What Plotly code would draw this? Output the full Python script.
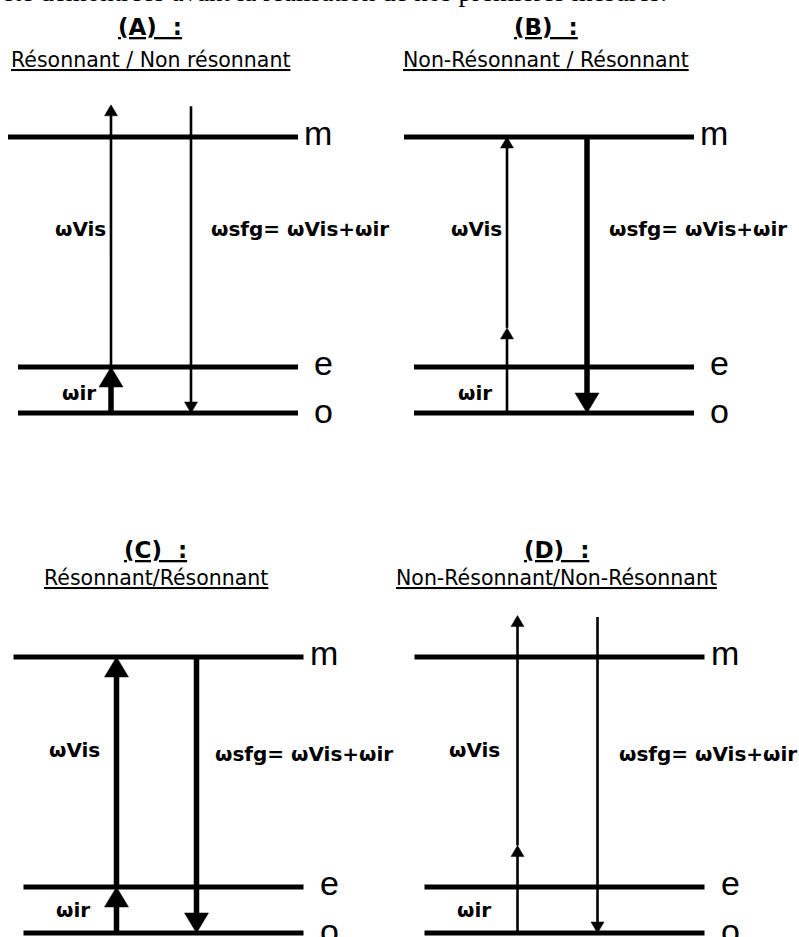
import plotly.graph_objects as go

W, H = 799, 937

# ---------------- data ----------------
level_names = ["o", "e", "m"]
level_energy = [0.0, 1.0, 6.0]

panel_titles = ["(A)\u00a0\u00a0:", "(B)\u00a0\u00a0:", "(C)\u00a0\u00a0:", "(D)\u00a0\u00a0:"]
panel_subtitles = ["Résonnant / Non résonnant", "Non-Résonnant / Résonnant",
                   "Résonnant/Résonnant", "Non-Résonnant/Non-Résonnant"]

# infrared photon: o -> ir_end (e if resonant, virtual level otherwise)
ir_end = [1.0, 1.85, 1.0, 1.9]
# visible photon: ir_end -> vis_end (m if resonant, virtual level otherwise)
vis_end = [6.7, 6.0, 6.0, 6.9]
# emitted sum-frequency photon: sfg_start -> o
sfg_start = [6.67, 6.0, 6.0, 6.87]

label_vis = "\u03c9Vis"
label_ir = "\u03c9ir"
label_sfg = "\u03c9sfg= \u03c9Vis+\u03c9ir"
header_text = "été démontrées avant la réalisation de nos premières mesures."

# ---------------- style / layout ----------------
ir_thick = [True, False, True, False]
vis_thick = [False, False, True, False]
sfg_thick = [False, True, True, False]

panel_row = [0, 0, 1, 1]
panel_x0 = [0, 396, 5.5, 406.5]
row_o_px = [413, 933]
row_range = [(-1.0, 8.9), (-0.08, 8.9)]
PX = 46.0  # pixels per energy unit

X_VIS, X_SFG = 111, 191
LEVEL_X_START = {"o": 18, "e": 18, "m": 8}
LEVEL_X_END = 298
LEVEL_LW = 5
LW_THIN, LW_THICK = 2.6, 5.5
HEAD_THIN = (13, 11)
HEAD_THICK = (24, 20)

vis_label_x = [80.5, 80.5, 69, 68]
vis_label_y = [4.0, 4.0, 3.98, 3.98]
ir_label_x = [78.5, 78.5, 67, 67]
ir_label_y = [0.43, 0.43, 0.5, 0.5]
sfg_label_x = [300, 301.5, 298, 301]
sfg_label_y = [4.0, 4.0, 3.9, 3.9]
level_label_x = {"o": 312, "e": 312, "m": 302}
title_px = [(27, 60), (550, 578)]

fig = go.Figure()


def axnames(k):
    return ("x" if k == 0 else f"x{k+1}", "y" if k == 0 else f"y{k+1}")


def add_line(k, xs, ys, width):
    xa, ya = axnames(k)
    fig.add_trace(go.Scatter(x=xs, y=ys, mode="lines", xaxis=xa, yaxis=ya,
                             line=dict(color="black", width=width),
                             hoverinfo="skip", showlegend=False))


def add_head(k, x, tip, direction, size):
    hw, hl = size
    xa, ya = axnames(k)
    base = tip - direction * hl / PX
    fig.add_trace(go.Scatter(x=[x - hw / 2, x + hw / 2, x, x - hw / 2],
                             y=[base, base, tip, base], mode="lines",
                             fill="toself", fillcolor="black",
                             line=dict(color="black", width=0.5),
                             xaxis=xa, yaxis=ya, hoverinfo="skip", showlegend=False))


def add_arrow(k, x, y0, y1, thick):
    lw = LW_THICK if thick else LW_THIN
    size = HEAD_THICK if thick else HEAD_THIN
    d = 1 if y1 > y0 else -1
    add_line(k, [x, x], [y0, y1 - d * 0.6 * size[1] / PX], lw)
    add_head(k, x, y1, d, size)


annotations = []
layout_axes = {}
for k in range(4):
    xa, ya = axnames(k)
    r = panel_row[k]
    lo, hi = row_range[r]
    bottom_px = row_o_px[r] - lo * PX
    top_px = row_o_px[r] - hi * PX
    x0 = panel_x0[k]
    xkey = "xaxis" if k == 0 else f"xaxis{k+1}"
    ykey = "yaxis" if k == 0 else f"yaxis{k+1}"
    layout_axes[xkey] = dict(domain=[0, 1], range=[-x0, W - x0], visible=False,
                             fixedrange=True, anchor=ya)
    layout_axes[ykey] = dict(domain=[1 - bottom_px / H, 1 - top_px / H], range=[lo, hi],
                             visible=False, fixedrange=True, anchor=xa)

    # energy levels
    for name, en in zip(level_names, level_energy):
        add_line(k, [LEVEL_X_START[name], LEVEL_X_END], [en, en], LEVEL_LW)
        annotations.append(dict(x=level_label_x[name], y=en, xref=xa, yref=ya,
                                text=name, showarrow=False, xanchor="left",
                                yanchor="middle", yshift=4 if name != "o" else 2,
                                font=dict(family="Liberation Sans", size=34, color="black")))

    # transitions
    add_arrow(k, X_VIS, level_energy[0], ir_end[k], ir_thick[k])
    add_arrow(k, X_VIS, ir_end[k], vis_end[k], vis_thick[k])
    add_arrow(k, X_SFG, sfg_start[k], level_energy[0], sfg_thick[k])

    lab_font = dict(family="DejaVu Sans", size=20, color="black", weight="bold")
    annotations.append(dict(x=vis_label_x[k], y=vis_label_y[k], xref=xa, yref=ya,
                            text=label_vis, showarrow=False, font=lab_font))
    annotations.append(dict(x=ir_label_x[k], y=ir_label_y[k], xref=xa, yref=ya,
                            text=label_ir, showarrow=False, font=lab_font))
    annotations.append(dict(x=sfg_label_x[k], y=sfg_label_y[k], xref=xa, yref=ya,
                            text=label_sfg, showarrow=False, font=lab_font))

    # titles
    ty1, ty2 = title_px[r]
    annotations.append(dict(x=150, y=1 - ty1 / H, xref=xa, yref="paper",
                            text=f"<u>{panel_titles[k]}</u>", showarrow=False,
                            yanchor="middle",
                            font=dict(family="DejaVu Sans", size=23, color="black",
                                      weight="bold")))
    annotations.append(dict(x=150, y=1 - ty2 / H, xref=xa, yref="paper",
                            text=f"<u>{panel_subtitles[k]}</u>", showarrow=False,
                            yanchor="middle",
                            font=dict(family="DejaVu Sans", size=20.5, color="black")))

annotations.append(dict(x=0, y=1 + 8 / H, xref="paper", yref="paper", text=header_text,
                        showarrow=False, xanchor="left", yanchor="middle",
                        font=dict(family="Liberation Serif", size=27, color="black")))

fig.update_layout(width=W, height=H, margin=dict(l=0, r=0, t=0, b=0),
                  paper_bgcolor="white", plot_bgcolor="rgba(0,0,0,0)",
                  showlegend=False, annotations=annotations, **layout_axes)

fig.write_html("out.html", config=dict(displayModeBar=False, staticPlot=True),
               post_script="document.body.style.margin='0';document.body.style.overflow='hidden';")
